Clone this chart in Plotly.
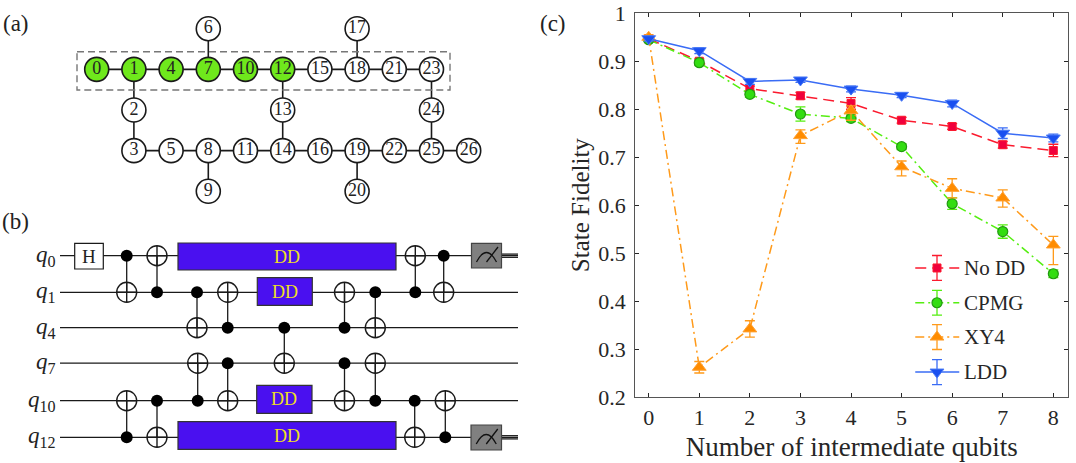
import plotly.graph_objects as go

W, H = 1076, 463
FONT = "Liberation Serif"
INK = "#262626"

# ---------- panel (c) data ----------
n_qubits = [0, 1, 2, 3, 4, 5, 6, 7, 8]
tick_y = [0.2, 0.3, 0.4, 0.5, 0.6, 0.7, 0.8, 0.9, 1]
tick_y_text = ["0.2", "0.3", "0.4", "0.5", "0.6", "0.7", "0.8", "0.9", "1"]

nodd = [0.947, 0.900, 0.843, 0.828, 0.812, 0.777, 0.764, 0.726, 0.714]
nodd_err = [0.004, 0.005, 0.005, 0.007, 0.012, 0.006, 0.006, 0.007, 0.013]
cpmg = [0.945, 0.897, 0.831, 0.790, 0.781, 0.722, 0.603, 0.545, 0.457]
cpmg_err = [0.004, 0.006, 0.006, 0.015, 0.007, 0.006, 0.012, 0.014, 0.008]
xy4 = [0.950, 0.262, 0.342, 0.745, 0.797, 0.680, 0.635, 0.615, 0.517]
xy4_up = [0.005, 0.012, 0.017, 0.012, 0.010, 0.012, 0.020, 0.017, 0.018]
xy4_dn = [0.005, 0.012, 0.017, 0.016, 0.020, 0.019, 0.020, 0.019, 0.041]
ldd = [0.947, 0.922, 0.858, 0.861, 0.842, 0.829, 0.812, 0.750, 0.740]
ldd_err = [0.005, 0.006, 0.006, 0.005, 0.006, 0.005, 0.007, 0.011, 0.008]

legend_names = ["No DD", "CPMG", "XY4", "LDD"]
legend_y = [0.469, 0.3965, 0.325, 0.252]
legend_x = [5.27, 5.70, 6.14]
legend_err = 0.026

RED, GREEN, ORANGE, BLUE = "#fb1a2e", "#55ee11", "#ff9a1a", "#3a6cf5"
styles = [
    dict(line=dict(color=RED, width=1.5, dash="11px,6px"),
         marker=dict(symbol="square", size=8, color="#f0003c", line=dict(color=RED, width=1))),
    dict(line=dict(color=GREEN, width=1.5, dash="9px,4px,2px,4px"),
         marker=dict(symbol="circle", size=10, color="#33dd11", line=dict(color="#229911", width=1.2))),
    dict(line=dict(color=ORANGE, width=1.5, dash="9px,4px,2px,4px"),
         marker=dict(symbol="triangle-up", size=12, color="#ff8c00", line=dict(color="#ffa030", width=1))),
    dict(line=dict(color=BLUE, width=1.5),
         marker=dict(symbol="triangle-down", size=12, color="#1a50f0", line=dict(color="#4a7af5", width=1))),
]

# ---------- panel (a) data: qubit lattice (column, row) ----------
node_ids = [0, 1, 4, 7, 10, 12, 15, 18, 21, 23,
            3, 5, 8, 11, 14, 16, 19, 22, 25, 26,
            6, 17, 2, 13, 24, 9, 20]
node_col = [0, 1, 2, 3, 4, 5, 6, 7, 8, 9,
            1, 2, 3, 4, 5, 6, 7, 8, 9, 10,
            3, 7, 1, 5, 9, 3, 7]
node_row = [1, 1, 1, 1, 1, 1, 1, 1, 1, 1,
            3, 3, 3, 3, 3, 3, 3, 3, 3, 3,
            0, 0, 2, 2, 2, 4, 4]
green_nodes = [0, 1, 4, 7, 10, 12]
edges = [(0, 1), (1, 4), (4, 7), (7, 10), (10, 12), (12, 15), (15, 18), (18, 21), (21, 23),
         (3, 5), (5, 8), (8, 11), (11, 14), (14, 16), (16, 19), (19, 22), (22, 25), (25, 26),
         (6, 7), (17, 18), (1, 2), (2, 3), (12, 13), (13, 14), (23, 24), (24, 25), (8, 9), (19, 20)]
LAT_X0, LAT_DX, LAT_Y0, LAT_DY = 96.7, 37.2, 28.7, 40.65

# ---------- panel (b) data: circuit ----------
wire_names = ["q0", "q1", "q4", "q7", "q10", "q12"]
wire_sub = ["0", "1", "4", "7", "10", "12"]
wire_y = [255.7, 292.3, 327.7, 363.2, 400.7, 437.3]
wire_x = [60, 518]
cnots = [  # x, control, target
    (126.7, "q0", "q1"), (157, "q1", "q0"), (197, "q1", "q4"), (227.7, "q4", "q1"),
    (284.3, "q4", "q7"), (344.5, "q4", "q1"), (375.3, "q1", "q4"), (415.3, "q1", "q0"),
    (443.7, "q0", "q1"),
    (126.7, "q12", "q10"), (157, "q10", "q12"), (197.7, "q10", "q7"), (227.7, "q7", "q10"),
    (344.5, "q7", "q10"), (375.3, "q10", "q7"), (414.7, "q10", "q12"), (445.3, "q12", "q10"),
]
dd_boxes = [(178, 396, 243, 270), (257.3, 312.3, 277.7, 305.3),
            (256.7, 312, 385.3, 413.3), (178, 396, 421.7, 449.3)]
h_box = (74.7, 103.3, 243.3, 269)
meters = [(471.5, 501.5, 243.3, 268), (471, 501.5, 425, 450)]

wy = dict(zip(wire_names, wire_y))
label = dict(zip(node_ids, zip(node_col, node_row)))


def lx(c):
    return LAT_X0 + LAT_DX * c


def ly(r):
    return LAT_Y0 + LAT_DY * r


fig = go.Figure()
OV = dict(xaxis="x2", yaxis="y2", showlegend=False, hoverinfo="skip")

# --- (a) edges and nodes
ex, ey = [], []
for a, b in edges:
    ex += [lx(label[a][0]), lx(label[b][0]), None]
    ey += [ly(label[a][1]), ly(label[b][1]), None]
fig.add_trace(go.Scatter(x=ex, y=ey, mode="lines", line=dict(color="#1a1a1a", width=1.6), **OV))
fig.add_trace(go.Scatter(
    x=[lx(c) for c in node_col], y=[ly(r) for r in node_row],
    mode="markers+text", text=[str(i) for i in node_ids], textposition="middle center",
    textfont=dict(family=FONT, size=18, color="#222222"),
    marker=dict(size=24, color=["#6fe81c" if i in green_nodes else "white" for i in node_ids],
                line=dict(color="#1a1a1a", width=1.6)), **OV))

# --- (b) wires
wxs, wys = [], []
for y in wire_y:
    wxs += [wire_x[0], wire_x[1], None]
    wys += [y, y, None]
for y in [wire_y[0], wire_y[5]]:
    wxs += [501, 518, None, 501, 518, None]
    wys += [y - 1.6, y - 1.6, None, y + 1.6, y + 1.6, None]
fig.add_trace(go.Scatter(x=wxs, y=wys, mode="lines", line=dict(color="#1a1a1a", width=1.3), **OV))

shapes = []
shapes.append(dict(type="rect", xref="x2", yref="y2", x0=77, x1=450, y0=51.7, y1=90,
                   line=dict(color="#777777", width=1.4, dash="7px,4px"), layer="above"))
for x0, x1, y0, y1 in dd_boxes:
    shapes.append(dict(type="rect", xref="x2", yref="y2", x0=x0, x1=x1, y0=y0, y1=y1,
                       fillcolor="#4a10f0", line=dict(color="#333333", width=1.2), layer="above"))
x0, x1, y0, y1 = h_box
shapes.append(dict(type="rect", xref="x2", yref="y2", x0=x0, x1=x1, y0=y0, y1=y1,
                   fillcolor="white", line=dict(color="#1a1a1a", width=1.2), layer="above"))
for x0, x1, y0, y1 in meters:
    shapes.append(dict(type="rect", xref="x2", yref="y2", x0=x0, x1=x1, y0=y0, y1=y1,
                       fillcolor="#808080", line=dict(color="#444444", width=1.2), layer="above"))
    cx, by = (x0 + x1) / 2, y1 - 6
    shapes.append(dict(type="path", xref="x2", yref="y2", layer="above",
                       path=f"M {cx-10} {by} Q {cx} {by-19} {cx+10} {by}",
                       line=dict(color="#111111", width=1.3)))
    shapes.append(dict(type="line", xref="x2", yref="y2", layer="above",
                       x0=cx, y0=by, x1=cx + 11.5, y1=by - 15,
                       line=dict(color="#111111", width=1.3)))

# --- (b) CNOT stems, controls and targets
sx, sy, cxs, cys, txs, tys = [], [], [], [], [], []
for x, c, t in cnots:
    sx += [x, x, None]
    sy += [wy[c], wy[t], None]
    cxs.append(x); cys.append(wy[c])
    txs.append(x); tys.append(wy[t])
fig.add_trace(go.Scatter(x=sx, y=sy, mode="lines", line=dict(color="#1a1a1a", width=1.3), **OV))
fig.add_trace(go.Scatter(x=cxs, y=cys, mode="markers",
                         marker=dict(size=12, color="black"), **OV))
fig.add_trace(go.Scatter(x=txs, y=tys, mode="markers",
                         marker=dict(symbol="circle-cross-open", size=20, color="#1a1a1a",
                                     line=dict(color="#1a1a1a", width=1.4)), **OV))

# --- (c) series
for name, vals, up, dn, st in zip(
        legend_names, [nodd, cpmg, xy4, ldd], [nodd_err, cpmg_err, xy4_up, ldd_err],
        [nodd_err, cpmg_err, xy4_dn, ldd_err], styles):
    fig.add_trace(go.Scatter(
        x=n_qubits, y=vals, mode="lines+markers", name=name, showlegend=False,
        error_y=dict(type="data", symmetric=False, array=up, arrayminus=dn,
                     color=st["line"]["color"], thickness=1.3, width=5),
        line=st["line"], marker=st["marker"]))

# --- (c) hand-placed legend inside the axes
for name, y, st in zip(legend_names, legend_y, styles):
    fig.add_trace(go.Scatter(x=[legend_x[0], legend_x[2]], y=[y, y], mode="lines",
                             line=st["line"], showlegend=False, hoverinfo="skip"))
    fig.add_trace(go.Scatter(
        x=[legend_x[1]], y=[y], mode="markers", showlegend=False, hoverinfo="skip",
        error_y=dict(type="constant", value=legend_err, color=st["line"]["color"],
                     thickness=1.3, width=5),
        marker=st["marker"]))

ann = []
for name, y in zip(legend_names, legend_y):
    ann.append(dict(x=6.2, y=y, xref="x", yref="y", text=name, showarrow=False, xanchor="left",
                    font=dict(family=FONT, size=21, color=INK)))
for box, txt in zip(dd_boxes, ["DD"] * 4):
    ann.append(dict(x=(box[0] + box[1]) / 2, y=(box[2] + box[3]) / 2, xref="x2", yref="y2",
                    text=txt, showarrow=False, font=dict(family=FONT, size=18, color="#f0e020")))
ann.append(dict(x=(h_box[0] + h_box[1]) / 2, y=(h_box[2] + h_box[3]) / 2, xref="x2", yref="y2",
                text="H", showarrow=False, font=dict(family=FONT, size=19, color="#222222")))
for sub, y in zip(wire_sub, wire_y):
    ann.append(dict(x=57.5, y=y, xref="x2", yref="y2", xanchor="right", showarrow=False,
                    text=f"<i>q</i><sub>{sub}</sub>", font=dict(family=FONT, size=23, color="#222222")))
for txt, x, y in [("(a)", 15.5, 23), ("(b)", 15.5, 221), ("(c)", 553, 23)]:
    ann.append(dict(x=x, y=y, xref="x2", yref="y2", text=txt, showarrow=False,
                    font=dict(family=FONT, size=23, color="#222222")))

axis_common = dict(showgrid=False, zeroline=False, ticks="inside", ticklen=4, tickwidth=1,
                   tickcolor=INK, showline=True, linecolor="#555555", linewidth=1.2,
                   mirror="allticks", tickfont=dict(family=FONT, size=22, color=INK))

fig.update_layout(
    width=W, height=H, margin=dict(l=0, r=0, t=0, b=0, autoexpand=False), autosize=False,
    paper_bgcolor="white", plot_bgcolor="rgba(0,0,0,0)", showlegend=False,
    xaxis=dict(domain=[635.3 / W, 1068.3 / W], range=[-0.265, 8.296],
               tickvals=n_qubits, ticktext=[str(v) for v in n_qubits],
               title=dict(text="Number of intermediate qubits", standoff=8,
                          font=dict(family=FONT, size=27, color=INK)), **axis_common),
    yaxis=dict(domain=[1 - 397 / H, 1 - 13.3 / H], range=[0.2, 1],
               tickvals=tick_y, ticktext=tick_y_text, ticklabelstandoff=4,
               title=dict(text="State Fidelity", standoff=1,
                          font=dict(family=FONT, size=25, color=INK)), **axis_common),
    xaxis2=dict(domain=[0, 1], range=[0, W], visible=False, fixedrange=True, anchor="y2"),
    yaxis2=dict(domain=[0, 1], range=[H, 0], visible=False, fixedrange=True, anchor="x2"),
    shapes=shapes, annotations=ann,
)

fig.write_html("out.html", config=dict(displayModeBar=False),
               post_script="document.body.style.margin='0';")
